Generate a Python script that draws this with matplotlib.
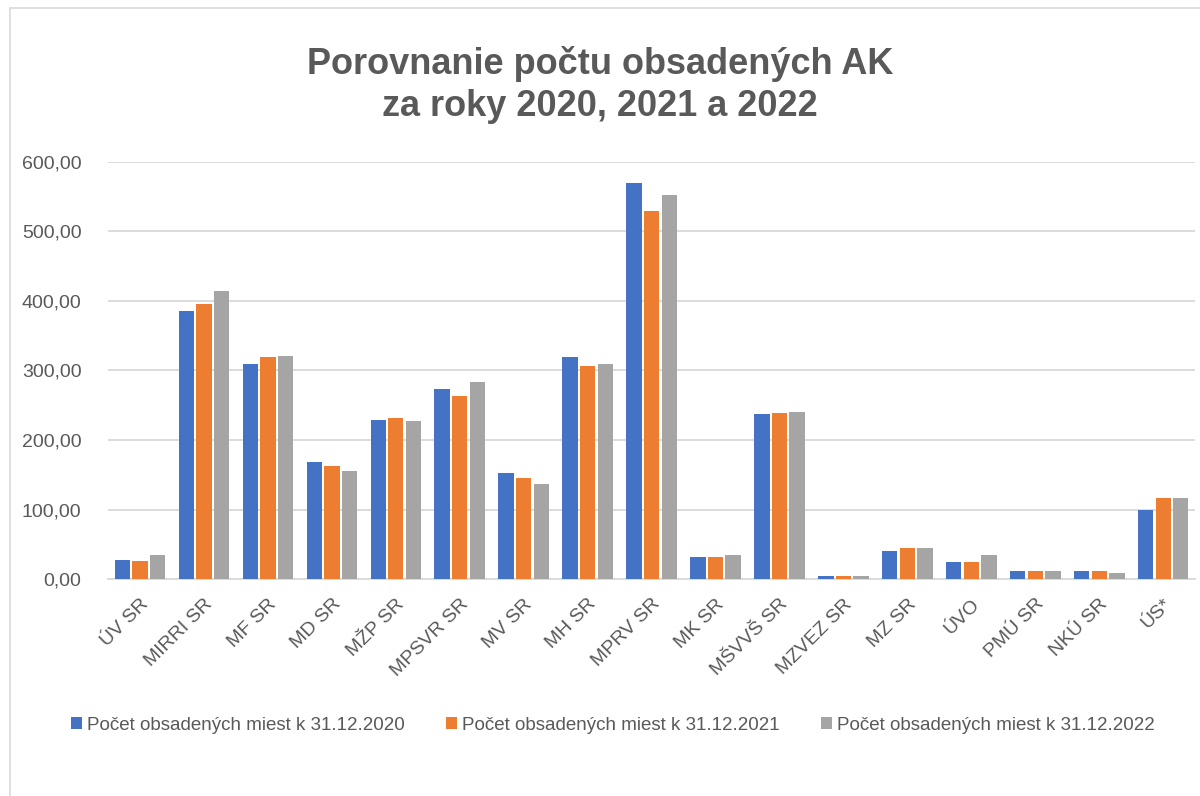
import numpy as np
import matplotlib.pyplot as plt
from matplotlib.patches import Rectangle

plt.rcParams['font.family'] = ['Liberation Sans', 'DejaVu Sans']

# Data
categories = ['ÚV SR', 'MIRRI SR', 'MF SR', 'MD SR', 'MŽP SR', 'MPSVR SR', 'MV SR',
              'MH SR', 'MPRV SR', 'MK SR', 'MŠVVŠ SR', 'MZVEZ SR', 'MZ SR', 'ÚVO',
              'PMÚ SR', 'NKÚ SR', 'ÚS*']
y2020 = [28, 386, 310, 169, 229, 274, 153, 320, 570, 31, 238, 5, 41, 25, 11, 11, 100]
y2021 = [26, 395, 320, 162, 231, 264, 146, 307, 530, 32, 239, 5, 44, 25, 11, 11, 116]
y2022 = [35, 415, 321, 156, 228, 284, 136, 310, 553, 35, 241, 5, 45, 34, 11, 8, 116]
series_labels = ['Počet obsadených miest k 31.12.2020',
                 'Počet obsadených miest k 31.12.2021',
                 'Počet obsadených miest k 31.12.2022']
colors = ['#4472C4', '#ED7D31', '#A5A5A5']
text_grey = '#595959'

fig = plt.figure(figsize=(12, 7.96), dpi=100)
ax = fig.add_axes([0.09, 0.2726, 0.906, 0.5239])

x = np.arange(len(categories))
w = 0.24
gap = 0.035
for k, (vals, lab, c) in enumerate(zip([y2020, y2021, y2022], series_labels, colors)):
    ax.bar(x + (k - 1) * (w + gap), vals, width=w, color=c, label=lab, zorder=3)

ax.set_xlim(-0.5, len(categories) - 0.5)
ax.set_ylim(0, 600)
yt = np.arange(0, 601, 100)
ax.set_yticks(yt)
ax.set_yticklabels([f'{v:.2f}'.replace('.', ',') for v in yt],
                   fontsize=14, color=text_grey)
ax.set_xticks(x)
ax.set_xticklabels(categories, rotation=45, ha='right', rotation_mode='anchor',
                   fontsize=14, color=text_grey)
ax.tick_params(length=0)
ax.tick_params(axis='y', pad=19)
ax.tick_params(axis='x', pad=12)
ax.grid(axis='y', color='#D9D9D9', lw=1.3, zorder=0)
for s in ['top', 'right', 'left']:
    ax.spines[s].set_visible(False)
ax.spines['bottom'].set_color('#D9D9D9')
ax.spines['bottom'].set_linewidth(1.3)

fig.text(0.5, 0.893, 'Porovnanie počtu obsadených AK\nza roky 2020, 2021 a 2022',
         ha='center', va='center', fontsize=26, fontweight='bold', color=text_grey,
         linespacing=1.25)

fig.legend(loc='center', bbox_to_anchor=(0.511, 0.089), ncol=3, frameon=False,
           fontsize=13.5, handlelength=0.55, handleheight=0.55, handletextpad=0.3,
           columnspacing=2.2, labelcolor=text_grey)

fig.patches.append(Rectangle((0.008, -0.01), 1.0, 1.0, transform=fig.transFigure,
                             fill=False, edgecolor='#D9D9D9', lw=1.2))

fig.savefig('out.png', dpi=100)
